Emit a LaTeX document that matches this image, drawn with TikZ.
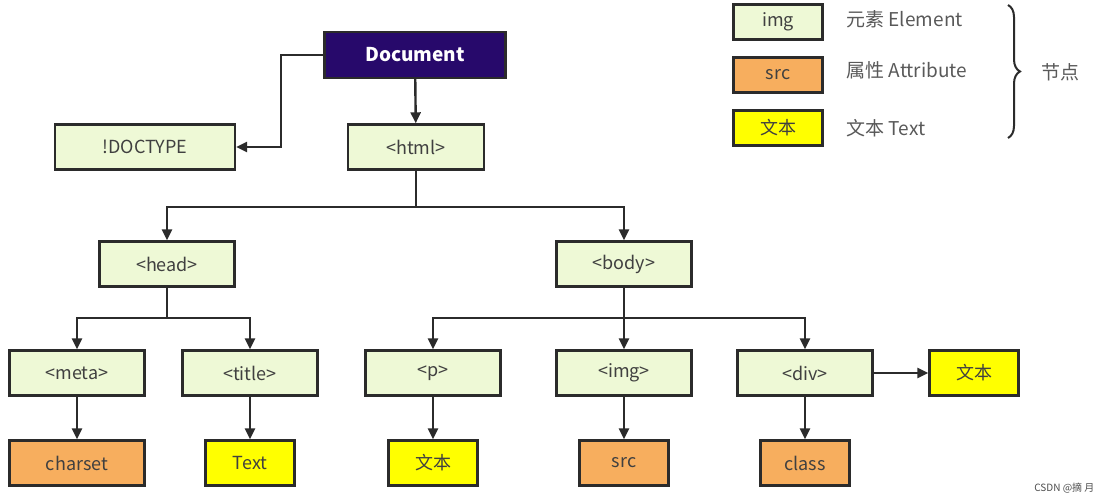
\documentclass[tikz,border=0pt]{standalone}
\usepackage{fontspec}
\setmainfont{Noto Sans CJK SC}
\usetikzlibrary{arrows.meta,decorations.pathreplacing}
\definecolor{elem}{HTML}{EEF9D6}
\definecolor{attr}{HTML}{F7AE5E}
\definecolor{txt}{HTML}{FFFF00}
\definecolor{docc}{HTML}{27096B}
\definecolor{bord}{HTML}{2B2B2B}
\tikzset{
 box/.style={draw=bord,line width=2.4pt,minimum height=45pt,font=\fontsize{18}{20}\selectfont,text=black!75,inner sep=0pt},
 elbox/.style={box,fill=elem,minimum width=135pt},
 atbox/.style={box,fill=attr,minimum width=89pt},
 txbox/.style={box,fill=txt,minimum width=89pt},
 lgbox/.style={box,minimum width=89pt,minimum height=35pt},
 lbl/.style={font=\fontsize{19}{21}\selectfont,text=black!65,anchor=west},
 con/.style={draw=bord,line width=2.4pt},
 arr/.style={con,-{Triangle[length=11pt,width=10pt]}}
}
\begin{document}
\begin{tikzpicture}[x=1pt,y=-1pt]
\useasboundingbox (0,0) rectangle (1103,502);
\node[box,fill=docc,text=white,minimum width=181pt,minimum height=46pt,font=\bfseries\fontsize{19}{21}\selectfont] (doc) at (415,55) {Document};
\node[elbox,minimum width=180pt] (dt) at (145,147) {!DOCTYPE};
\node[elbox,minimum width=136pt] (html) at (416,147) {<html>};
\node[elbox] (head) at (167,264) {<head>};
\node[elbox] (body) at (624,264) {<body>};
\node[elbox] (meta) at (77,373) {<meta>};
\node[elbox] (title) at (250,373) {<title>};
\node[elbox] (p) at (433,373) {<p>};
\node[elbox] (img) at (624,373) {<img>};
\node[elbox] (div) at (805,373) {<div>};
\node[txbox] (dtx) at (974,373) {文本};
\node[atbox,minimum width=135pt] (cs) at (77,463) {charset};
\node[txbox] (ttx) at (250,463) {Text};
\node[txbox] (ptx) at (433,463) {文本};
\node[atbox] (src) at (624,463) {src};
\node[atbox] (cls) at (805,463) {class};
% legend
\node[lgbox,fill=elem] (l1) at (778,22) {img};
\node[lgbox,fill=attr] (l2) at (778,75) {src};
\node[lgbox,fill=txt] (l3) at (778,128) {文本};
\node[lbl] (t1) at (843,19) {元素 Element};
\node[lbl] (t2) at (843,70) {属性 Attribute};
\node[lbl] (t3) at (843,128) {文本 Text};
\coordinate (b1) at (1008,5);
\coordinate (b2) at (1008,138);
\draw[draw=bord,line width=2pt,decorate,decoration={brace,amplitude=12pt}] (b1) -- (b2);
\node[lbl] (nd) at (1038,72) {节点};
\node[font=\fontsize{10}{12}\selectfont,text=black!70,anchor=east] (csdn) at (1098,488) {CSDN @摘 月};
% connectors
\draw[arr] (doc.west) -| ([xshift=45pt]dt.east) -- (dt.east);
\draw[arr] (doc) -- (html);
\coordinate (j1) at (416,207);
\draw[con] (html) -- (j1);
\draw[arr] (j1) -| (head);
\draw[arr] (j1) -| (body);
\coordinate (j2) at (167,318);
\draw[con] (head) -- (j2);
\draw[arr] (j2) -| (meta);
\draw[arr] (j2) -| (title);
\coordinate (j3) at (624,318);
\draw[con] (body) -- (j3);
\draw[arr] (j3) -| (p);
\draw[arr] (j3) -- (img);
\draw[arr] (j3) -| (div);
\draw[arr] (div) -- (dtx);
\draw[arr] (meta) -- (cs);
\draw[arr] (title) -- (ttx);
\draw[arr] (p) -- (ptx);
\draw[arr] (img) -- (src);
\draw[arr] (div) -- (cls);
\end{tikzpicture}
\end{document}
